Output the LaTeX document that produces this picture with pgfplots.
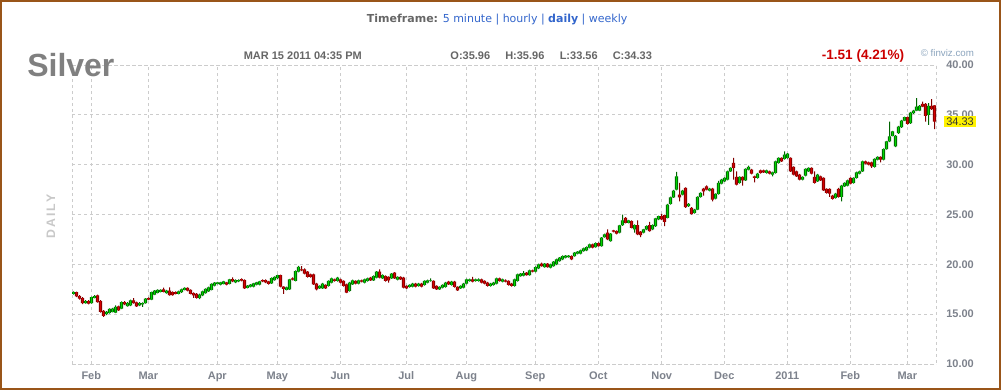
\documentclass[border=0pt]{standalone}
\usepackage{fontspec}
\setmainfont{Liberation Sans}
\newfontfamily\dvs{DejaVu Sans}
\usepackage{pgfplots}
\pgfplotsset{compat=1.18}
\usepackage{pgfplotstable}
\definecolor{gridc}{RGB}{204,204,204}
\definecolor{lblc}{RGB}{125,130,140}
\definecolor{upfill}{RGB}{0,214,0}
\definecolor{upedge}{RGB}{0,100,0}
\definecolor{dnfill}{RGB}{214,0,0}
\definecolor{dnedge}{RGB}{130,0,0}
\definecolor{framec}{RGB}{153,85,25}
\definecolor{linkc}{RGB}{51,102,204}
\definecolor{hdrc}{RGB}{102,102,102}
\definecolor{chgc}{RGB}{204,0,0}
\definecolor{fvc}{RGB}{140,165,190}
\definecolor{silverc}{RGB}{128,128,128}
\definecolor{dailyc}{RGB}{200,200,200}

\pgfplotstableread{
i o h l c
0 17.04 17.30 16.95 17.20
1 17.20 17.25 16.70 16.78
2 16.81 16.90 16.45 16.55
3 16.61 16.70 16.00 16.12
4 16.12 16.40 16.05 16.32
5 16.32 16.40 15.98 16.05
6 16.12 16.75 16.05 16.71
7 16.64 16.90 16.58 16.81
8 16.88 16.95 16.15 16.22
9 16.32 16.40 15.15 15.23
10 15.33 15.40 14.74 14.84
11 15.00 15.30 14.90 15.23
12 15.13 15.58 15.05 15.53
13 15.23 15.62 15.18 15.56
14 15.16 15.88 15.10 15.72
15 15.79 15.85 15.33 15.39
16 15.56 16.28 15.50 16.22
17 16.22 16.30 15.92 15.99
18 15.82 16.20 15.75 16.12
19 15.89 16.45 15.82 16.38
20 16.38 16.62 16.05 16.12
21 16.18 16.25 15.72 15.79
22 15.89 16.20 15.82 16.12
23 15.99 16.18 15.72 16.12
24 16.12 16.62 16.05 16.55
25 16.61 16.68 16.40 16.45
26 16.45 17.25 16.40 17.20
27 16.97 17.42 16.92 17.37
28 17.14 17.50 17.08 17.43
29 17.24 17.50 17.18 17.43
30 17.50 17.66 17.18 17.24
31 17.11 17.45 17.05 17.37
32 17.37 17.70 16.85 16.91
33 17.20 17.28 16.85 16.91
34 17.20 17.28 16.98 17.04
35 17.04 17.36 16.98 17.30
36 17.20 17.56 17.14 17.50
37 17.43 17.70 17.38 17.63
38 17.63 17.70 17.30 17.37
39 17.43 17.50 16.98 17.04
40 17.11 17.18 16.64 16.88
41 17.04 17.10 16.55 16.64
42 16.61 17.05 16.52 16.97
43 16.88 17.36 16.82 17.30
44 17.11 17.60 17.05 17.53
45 17.30 17.76 17.24 17.70
46 17.43 18.08 17.38 18.03
47 17.86 18.22 17.80 18.16
48 18.03 18.25 17.98 18.19
49 17.96 18.25 17.90 18.19
50 18.03 18.35 17.98 18.29
51 18.19 18.25 17.90 17.96
52 18.03 18.55 17.98 18.49
53 18.52 18.70 18.22 18.29
54 18.19 18.48 18.12 18.42
55 18.29 18.48 18.22 18.42
56 18.52 18.60 18.30 18.36
57 18.42 18.48 17.55 17.60
58 17.63 17.92 17.58 17.86
59 17.76 18.02 17.70 17.96
60 17.76 18.15 17.70 18.09
61 17.96 18.25 17.90 18.19
62 17.96 18.35 17.90 18.29
63 18.42 18.48 18.22 18.29
64 18.42 18.48 18.12 18.19
65 18.29 18.35 17.96 18.03
66 18.09 18.68 18.03 18.62
67 18.42 18.80 18.36 18.75
68 18.62 18.96 18.55 18.91
69 18.91 18.96 17.70 17.76
70 17.76 17.80 17.04 17.53
71 17.43 17.76 17.38 17.70
72 17.50 18.55 17.45 18.50
73 18.60 18.70 18.40 18.47
74 18.33 19.40 18.28 19.33
75 19.27 19.85 19.20 19.74
76 19.50 19.83 19.33 19.40
77 19.50 19.60 19.00 19.07
78 19.27 19.33 18.67 18.73
79 19.00 19.07 18.67 18.73
80 19.00 19.07 17.93 18.00
81 18.07 18.13 17.40 17.50
82 17.60 17.90 17.55 17.83
83 17.60 18.13 17.55 18.07
84 17.93 18.00 17.53 17.60
85 17.83 18.40 17.77 18.33
86 18.17 18.67 18.10 18.60
87 18.50 18.57 18.27 18.33
88 18.33 18.73 18.27 18.67
89 18.50 18.57 18.10 18.17
90 18.33 18.40 17.77 17.83
91 18.00 18.07 17.10 17.17
92 17.33 18.23 17.27 18.17
93 18.00 18.47 17.93 18.40
94 18.33 18.40 18.00 18.07
95 18.07 18.47 18.00 18.40
96 18.40 18.47 18.20 18.27
97 18.17 18.57 18.10 18.50
98 18.33 18.67 18.27 18.60
99 18.67 18.73 18.33 18.40
100 18.40 18.90 18.33 18.83
101 18.67 19.33 18.60 19.27
102 19.27 19.50 18.60 18.67
103 18.60 19.00 18.53 18.93
104 18.83 18.90 18.27 18.33
105 18.73 18.80 18.17 18.40
106 18.60 19.13 18.53 19.07
107 19.17 19.23 18.53 18.60
108 18.47 18.80 18.40 18.73
109 18.73 18.80 18.43 18.50
110 18.67 18.73 17.60 17.67
111 17.83 17.90 17.53 17.60
112 17.73 18.00 17.67 17.93
113 17.77 18.13 17.70 18.07
114 18.07 18.13 17.70 17.77
115 17.83 18.13 17.77 18.07
116 18.07 18.13 17.70 17.77
117 17.93 18.40 17.87 18.33
118 18.17 18.47 18.10 18.40
119 18.33 18.60 18.27 18.40
120 18.33 18.40 17.53 17.60
121 17.83 17.90 17.43 17.50
122 17.50 17.80 17.43 17.73
123 17.67 18.00 17.60 17.93
124 17.73 18.23 17.67 18.17
125 18.27 18.33 17.93 18.00
126 17.93 18.33 17.87 18.27
127 18.27 18.33 17.67 17.73
128 17.73 17.80 17.33 17.40
129 17.60 17.90 17.53 17.83
130 17.67 18.13 17.60 18.07
131 18.07 18.57 18.00 18.50
132 18.33 18.57 18.27 18.50
133 18.50 18.73 18.20 18.27
134 18.33 18.57 18.27 18.50
135 18.33 18.60 18.27 18.50
136 18.50 18.57 18.10 18.17
137 18.33 18.40 18.00 18.07
138 18.17 18.23 17.77 17.83
139 17.83 18.13 17.77 18.07
140 17.93 18.23 17.87 18.17
141 18.07 18.67 18.00 18.60
142 18.60 18.67 18.27 18.33
143 18.27 18.57 18.20 18.50
144 18.40 18.50 18.20 18.27
145 18.33 18.40 17.87 17.93
146 18.07 18.13 17.77 17.83
147 17.83 18.57 17.77 18.50
148 18.33 19.07 18.27 19.00
149 18.83 19.13 18.77 19.07
150 18.87 19.33 18.80 19.13
151 19.17 19.23 18.87 18.93
152 18.93 19.47 18.87 19.40
153 19.40 19.47 19.20 19.27
154 19.27 19.80 19.20 19.73
155 19.60 20.07 19.53 20.00
156 20.07 20.17 19.77 19.83
157 19.73 20.13 19.67 20.07
158 20.07 20.13 19.67 19.73
159 19.67 20.07 19.60 20.00
160 19.83 20.33 19.77 20.27
161 20.00 20.57 19.93 20.50
162 20.33 20.73 20.27 20.67
163 20.50 20.90 20.43 20.83
164 20.67 20.93 20.60 20.87
165 20.73 20.93 20.67 20.87
166 20.83 20.90 20.43 20.50
167 20.83 21.23 20.77 21.17
168 21.07 21.33 21.00 21.27
169 21.07 21.47 21.00 21.40
170 21.33 21.67 21.27 21.60
171 21.40 21.80 21.33 21.73
172 21.67 22.07 21.60 22.00
173 22.00 22.07 21.60 21.67
174 21.73 22.20 21.67 22.13
175 22.13 22.20 21.77 21.83
176 21.83 22.73 21.77 22.67
177 22.73 23.07 22.67 23.00
178 23.17 23.50 22.43 22.50
179 22.33 23.13 22.27 23.07
180 23.40 23.47 23.20 23.27
181 23.33 23.40 23.00 23.07
182 23.17 23.97 23.10 23.90
183 23.93 25.00 23.87 24.40
184 24.67 24.73 24.10 24.17
185 24.17 24.47 24.10 24.40
186 24.33 24.40 23.60 23.67
187 23.50 24.00 23.17 23.93
188 23.93 24.40 22.93 23.00
189 23.27 23.33 22.73 22.93
190 23.17 23.57 23.10 23.50
191 23.50 23.90 23.43 23.83
192 23.93 24.27 23.27 23.33
193 23.50 24.00 23.43 23.93
194 23.83 24.67 23.77 24.60
195 24.50 24.90 24.43 24.83
196 24.83 25.07 24.43 24.50
197 24.93 25.00 23.83 24.27
198 24.67 26.07 24.60 26.00
199 26.07 26.80 26.00 26.73
200 26.73 27.47 26.67 27.40
201 27.50 29.27 27.43 28.83
202 27.00 28.17 26.33 26.73
203 27.00 27.47 26.93 27.40
204 27.67 27.73 25.67 25.73
205 25.83 26.13 25.77 26.07
206 25.67 25.73 25.00 25.07
207 25.17 25.57 25.10 25.50
208 25.50 26.83 25.43 26.77
209 26.77 27.23 26.70 27.17
210 27.60 27.67 26.90 27.33
211 27.83 27.93 27.43 27.50
212 27.40 27.67 27.33 27.60
213 27.60 27.67 26.33 26.50
214 26.60 27.13 26.53 27.07
215 27.07 28.37 27.00 28.17
216 28.10 28.57 28.03 28.50
217 28.33 28.73 28.27 28.67
218 28.50 29.40 28.43 29.33
219 29.33 29.73 29.27 29.67
220 30.17 30.67 28.50 29.67
221 28.77 29.33 27.93 28.00
222 28.17 28.83 28.10 28.77
223 28.77 28.83 27.90 28.43
224 28.43 29.63 28.37 29.57
225 29.50 29.90 29.43 29.77
226 29.50 29.57 29.03 29.10
227 28.83 28.90 28.23 28.67
228 28.67 29.17 28.60 29.10
229 29.43 29.50 29.10 29.17
230 29.43 29.50 29.17 29.23
231 29.17 29.50 29.10 29.43
232 29.33 29.40 29.03 29.10
233 29.00 29.30 28.83 29.23
234 29.17 30.40 29.10 30.33
235 30.17 30.73 30.10 30.67
236 30.67 30.73 30.27 30.33
237 30.57 31.33 30.50 31.00
238 30.67 31.17 30.60 31.10
239 30.67 30.73 29.27 29.33
240 29.77 29.83 28.93 29.00
241 29.33 29.40 28.77 28.83
242 29.00 29.07 28.43 28.50
243 28.50 28.83 28.43 28.77
244 28.90 29.63 28.83 29.57
245 29.33 29.73 29.27 29.67
246 29.67 29.73 29.03 29.10
247 28.77 29.33 28.10 28.17
248 28.33 29.07 28.27 29.00
249 28.83 28.90 28.37 28.43
250 28.67 28.73 27.37 27.43
251 27.57 27.63 27.10 27.17
252 27.57 27.63 26.77 27.10
253 26.90 26.97 26.50 26.57
254 26.67 27.17 26.60 27.10
255 27.57 27.67 26.70 26.77
256 26.77 27.97 26.33 27.90
257 27.83 28.23 27.77 28.17
258 27.90 28.50 27.83 28.43
259 28.67 28.73 28.03 28.10
260 28.17 28.73 28.10 28.67
261 28.67 29.30 28.60 29.23
262 29.10 29.40 29.03 29.33
263 29.33 30.40 29.27 30.33
264 30.33 30.40 30.03 30.10
265 30.23 30.30 29.93 30.00
266 30.23 30.30 29.67 29.83
267 29.77 30.63 29.70 30.57
268 30.50 30.83 30.43 30.77
269 30.77 30.83 30.23 30.50
270 30.50 31.63 30.43 31.57
271 31.57 32.40 31.50 32.33
272 32.33 34.33 32.27 32.83
273 32.90 33.40 32.83 33.33
274 31.83 32.97 31.77 32.90
275 33.17 33.90 33.10 33.83
276 33.77 34.50 33.70 34.43
277 34.43 34.83 34.37 34.77
278 34.77 34.83 34.03 34.10
279 34.17 35.30 34.10 35.23
280 35.17 35.50 35.10 35.43
281 35.43 36.67 35.37 35.83
282 35.43 35.97 35.37 35.90
283 36.10 36.33 35.77 35.83
284 36.10 36.17 34.33 34.90
285 35.00 36.17 34.00 35.90
286 35.90 36.57 35.50 35.57
287 35.96 35.96 33.56 34.33
}\data

\pgfplotsset{
  frame/.style={at={(54pt,-273pt)}, anchor=south west, scale only axis,
    width=648pt, height=224.25pt, xmin=0, xmax=288, ymin=10, ymax=40},
  overlay/.style={frame, hide axis, grid=none, xtick=\empty, ytick=\empty},
}

\begin{document}
\begin{tikzpicture}
\begin{scope}[x=0.75pt,y=-0.75pt]
\useasboundingbox (0,0) rectangle (1001,390);
\fill[white] (0,0) rectangle (1001,390);
\end{scope}
% main axis: grid, labels, wicks
\begin{axis}[frame,
  ybar stacked, bar width=0.75pt,
  axis line style={draw=gridc, line width=0.75pt, dash pattern=on 2.25pt off 2.25pt},
  grid=major,
  major grid style={draw=gridc, line width=0.75pt, dash pattern=on 2.25pt off 2.25pt},
  major tick length=0pt,
  xtick={6.43,25.43,48.43,68.43,89.43,111.43,131.43,154.43,175.43,196.57,217.43,238.43,259.43,278.43},
  xticklabels={Feb,Mar,Apr,May,Jun,Jul,Aug,Sep,Oct,Nov,Dec,2011,Feb,Mar},
  ytick={10,15,20,25,30,35,40},
  yticklabels={10.00,15.00,20.00,25.00,30.00,35.00,40.00},
  yticklabel pos=right,
  ticklabel style={font=\bfseries\fontsize{8.25}{10}\selectfont, text=lblc, inner sep=0pt},
  yticklabel style={anchor=west, xshift=7.5pt},
  xticklabel style={anchor=base, yshift=-11.6pt},
]
\addplot[draw=none, fill=none] table[x expr=\thisrow{i}+0.5, y=l]{\data};
\addplot[draw=none, fill=upedge] table[x expr=\thisrow{i}+0.5,
  y expr={(\thisrow{c}>=\thisrow{o})*(\thisrow{h}-\thisrow{l})}]{\data};
\addplot[draw=none, fill=dnedge] table[x expr=\thisrow{i}+0.5,
  y expr={(\thisrow{c}<\thisrow{o})*(\thisrow{h}-\thisrow{l})}]{\data};
\end{axis}
% candle bodies, dark edge
\begin{axis}[overlay, ybar stacked, bar width=2.3pt]
\addplot[draw=none, fill=none] table[x expr=\thisrow{i}+0.5, y expr={min(\thisrow{o},\thisrow{c})}]{\data};
\addplot[draw=none, fill=upedge] table[x expr=\thisrow{i}+0.5,
  y expr={max(\thisrow{c}-\thisrow{o},0)}]{\data};
\addplot[draw=none, fill=dnedge] table[x expr=\thisrow{i}+0.5,
  y expr={max(\thisrow{o}-\thisrow{c},0)}]{\data};
\end{axis}
% candle bodies, bright centre
\begin{axis}[overlay, ybar stacked, bar width=1.0pt]
\addplot[draw=none, fill=none] table[x expr=\thisrow{i}+0.5, y expr={min(\thisrow{o},\thisrow{c})}]{\data};
\addplot[draw=none, fill=upfill] table[x expr=\thisrow{i}+0.5,
  y expr={max(\thisrow{c}-\thisrow{o},0)}]{\data};
\addplot[draw=none, fill=dnfill] table[x expr=\thisrow{i}+0.5,
  y expr={max(\thisrow{o}-\thisrow{c},0)}]{\data};
\end{axis}
\begin{scope}[x=0.75pt,y=-0.75pt]
\draw[framec, line width=1.5pt] (1,1) rectangle (1000,389);
\node[anchor=base west, inner sep=0pt, font=\dvs\fontsize{8.25}{10}\selectfont] at (366.7,22.8)
  {\textcolor{hdrc}{\bfseries Timeframe:} \textcolor{linkc}{5 minute | hourly | \textbf{daily} | weekly}};
\node[anchor=base west, inner sep=0pt, font=\bfseries\fontsize{24}{28}\selectfont, text=silverc] at (27,76) {Silver};
\node[anchor=base west, inner sep=0pt, font=\bfseries\fontsize{8.25}{10}\selectfont, text=hdrc] at (243.5,59.3) {MAR 15 2011 04:35 PM};
\node[anchor=base west, inner sep=0pt, font=\bfseries\fontsize{8.25}{10}\selectfont, text=hdrc] at (450.2,59.3) {O:35.96};
\node[anchor=base west, inner sep=0pt, font=\bfseries\fontsize{8.25}{10}\selectfont, text=hdrc] at (505,59.3) {H:35.96};
\node[anchor=base west, inner sep=0pt, font=\bfseries\fontsize{8.25}{10}\selectfont, text=hdrc] at (559.5,59.3) {L:33.56};
\node[anchor=base west, inner sep=0pt, font=\bfseries\fontsize{8.25}{10}\selectfont, text=hdrc] at (612.5,59.3) {C:34.33};
\node[anchor=base west, inner sep=0pt, font=\bfseries\fontsize{10.2}{12}\selectfont, text=chgc] at (821.5,59.5) {-1.51 (4.21\%)};
\node[anchor=base west, inner sep=0pt, font=\fontsize{7.3}{9}\selectfont, text=fvc] at (920.5,56.7) {© finviz.com};
\node[rotate=90, inner sep=0pt, font=\bfseries\fontsize{9.2}{11}\selectfont\addfontfeatures{LetterSpace=16}, text=dailyc] at (51,216.5) {DAILY};
\node[anchor=west, fill=yellow, inner xsep=1.5pt, inner ysep=1.4pt, font=\fontsize{8.25}{10}\selectfont, text=black!80] at (944,121.5) {34.33};
\end{scope}
\end{tikzpicture}
\end{document}
